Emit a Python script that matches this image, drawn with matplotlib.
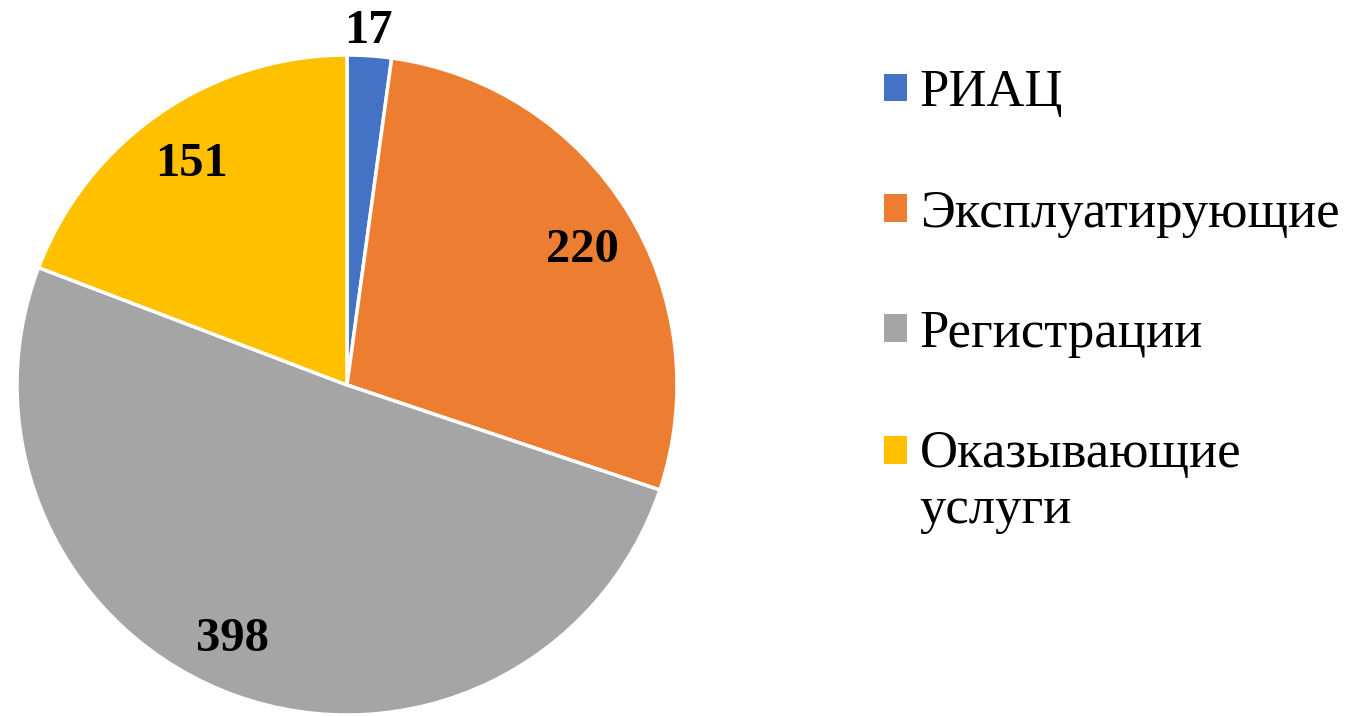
import numpy as np
import matplotlib.pyplot as plt
from matplotlib.patches import Patch, Rectangle
from matplotlib.legend_handler import HandlerPatch

labels = ['РИАЦ', 'Эксплуатирующие', 'Регистрации', 'Оказывающие\nуслуги']
values = [17, 220, 398, 151]
colors = ['#4472C4', '#ED7D31', '#A5A5A5', '#FFC000']
label_r = [1.09, 0.83, 0.83, 0.83]
label_dang = [0.5, -1, -5, 0]  # small nudges in degrees

plt.rcParams['font.family'] = ['Liberation Serif', 'DejaVu Serif']

fig = plt.figure(figsize=(13.62, 7.16), dpi=100)
ax = fig.add_axes([17/1362, 1/716, 660/1362, 660/716])

wedges, _ = ax.pie(values, colors=colors, startangle=90, counterclock=False,
                   wedgeprops=dict(edgecolor='white', linewidth=2.5))
ax.set_xlim(-1, 1)
ax.set_ylim(-1, 1)
ax.set_aspect('equal')
ax.axis('off')

for w, v, r, da in zip(wedges, values, label_r, label_dang):
    ang = np.deg2rad((w.theta1 + w.theta2) / 2 + da)
    ax.text(r * np.cos(ang), r * np.sin(ang) - 0.015, str(v), ha='center', va='center',
            fontsize=35, fontweight='bold', clip_on=False)


# square aligned with first line of a two-line label
def top_square(legend, orig_handle, xdescent, ydescent, width, height, fontsize):
    return Rectangle((-xdescent, -ydescent + 0.6 * fontsize), width, height)


handles = [Patch(facecolor=c, edgecolor='none') for c in colors]
fig.legend(handles, labels, loc='upper left', bbox_to_anchor=(858/1362, 1 - 43/716),
           frameon=False, fontsize=38, handlelength=0.42, handleheight=0.42,
           handletextpad=0.25, labelspacing=1.37, borderpad=0,
           handler_map={handles[3]: HandlerPatch(patch_func=top_square)})

fig.savefig('out.png', dpi=100)
